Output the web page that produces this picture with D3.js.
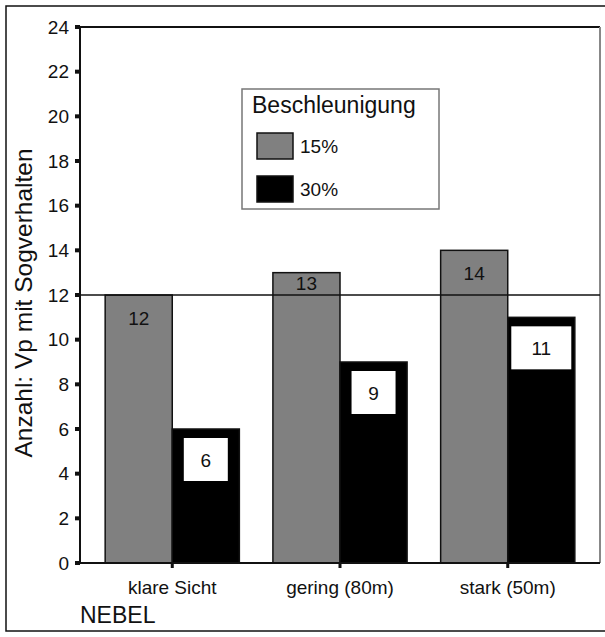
<!DOCTYPE html>
<html>
<head>
<meta charset="utf-8">
<script src="https://cdn.jsdelivr.net/npm/d3@7"></script>
<style>
  body { margin: 0; background: #fff; }
  text { font-family: "Liberation Sans", Arial, sans-serif; fill: #111; }
</style>
</head>
<body>
<div id="chart"></div>
<script>

var svgWidth = 605, svgHeight = 637;

// data
var categories = ["klare Sicht", "gering (80m)", "stark (50m)"];
var seriesNames = ["15%", "30%"];
var values15 = [12, 13, 14];
var values30 = [6, 9, 11];
var yTicks = [0, 2, 4, 6, 8, 10, 12, 14, 16, 18, 20, 22, 24];
var refValue = 12;
var legendTitle = "Beschleunigung";
var yTitle = "Anzahl: Vp mit Sogverhalten";
var xTitle = "NEBEL";

var colors = ["#808080", "#000000"];

var plotLeft = 80, plotRight = 600, plotTop = 27, plotBottom = 563;

var svg = d3.select("#chart")
  .append("svg")
  .attr("width", svgWidth)
  .attr("height", svgHeight);

// outer frame
svg.append("rect")
  .attr("x", 6).attr("y", 6)
  .attr("width", 610).attr("height", 625)
  .attr("fill", "none")
  .attr("stroke", "#111")
  .attr("stroke-width", 1.5);

var x = d3.scaleBand()
  .domain(categories)
  .range([plotLeft, plotRight])
  .paddingInner(0.2)
  .paddingOuter(0.15);

var xSub = d3.scaleBand()
  .domain(seriesNames)
  .range([0, x.bandwidth()]);

var y = d3.scaleLinear()
  .domain([0, 24])
  .range([plotBottom, plotTop]);

var rows = categories.map(function(c, i) {
  return { cat: c, vals: [values15[i], values30[i]] };
});

// plot frame: top black, right grey
svg.append("line")
  .attr("x1", plotLeft).attr("x2", plotRight)
  .attr("y1", plotTop).attr("y2", plotTop)
  .attr("stroke", "#111").attr("stroke-width", 2);
svg.append("line")
  .attr("x1", plotRight).attr("x2", plotRight)
  .attr("y1", plotTop).attr("y2", plotBottom)
  .attr("stroke", "#888").attr("stroke-width", 2);

var groups = svg.selectAll("g.grp")
  .data(rows)
  .enter()
  .append("g")
  .attr("class", "grp")
  .attr("transform", d => "translate(" + x(d.cat) + ",0)");

groups.selectAll("rect.bar")
  .data(d => d.vals.map((v, j) => ({ key: seriesNames[j], v: v, j: j })))
  .enter()
  .append("rect")
  .attr("class", "bar")
  .attr("x", d => xSub(d.key))
  .attr("y", d => y(d.v))
  .attr("width", xSub.bandwidth())
  .attr("height", d => y(0) - y(d.v))
  .attr("fill", d => colors[d.j])
  .attr("stroke", "#111")
  .attr("stroke-width", 1.5);

// reference line at 12
svg.append("line")
  .attr("x1", plotLeft).attr("x2", plotRight)
  .attr("y1", y(refValue)).attr("y2", y(refValue))
  .attr("stroke", "#111").attr("stroke-width", 1.5);

// labels on the grey bars (moved up when they would sit on the line)
groups.append("text")
  .text(d => d.vals[0])
  .attr("x", xSub("15%") + xSub.bandwidth() / 2)
  .attr("y", function(d) {
    var ly = y(d.vals[0]) + 23;
    if (Math.abs(ly - y(refValue)) < 12) ly = y(d.vals[0]) + 11;
    return ly;
  })
  .attr("text-anchor", "middle")
  .attr("dominant-baseline", "central")
  .style("font-size", "19px");

// white boxes with labels on the black bars
var boxes = groups.append("g")
  .attr("transform", d => "translate(" + (xSub("30%") + xSub.bandwidth() / 2) + "," + (y(d.vals[1]) + 9) + ")");

boxes.append("rect")
  .attr("x", d => -(28 + 16 * String(d.vals[1]).length) / 2)
  .attr("y", 0)
  .attr("width", d => 28 + 16 * String(d.vals[1]).length)
  .attr("height", 43)
  .attr("fill", "#fff");

boxes.append("text")
  .text(d => d.vals[1])
  .attr("x", 0)
  .attr("y", 22)
  .attr("text-anchor", "middle")
  .attr("dominant-baseline", "central")
  .style("font-size", "19px");

// y axis
svg.append("line")
  .attr("x1", plotLeft).attr("x2", plotLeft)
  .attr("y1", plotTop).attr("y2", plotBottom + 1)
  .attr("stroke", "#111").attr("stroke-width", 2);

svg.selectAll("rect.ytick")
  .data(yTicks)
  .enter()
  .append("rect")
  .attr("class", "ytick")
  .attr("x", plotLeft - 5)
  .attr("y", d => y(d) - 2)
  .attr("width", 5)
  .attr("height", 4)
  .attr("fill", "#111");

svg.selectAll("text.ylab")
  .data(yTicks)
  .enter()
  .append("text")
  .attr("class", "ylab")
  .text(d => d)
  .attr("x", 69)
  .attr("y", d => y(d))
  .attr("text-anchor", "end")
  .attr("dominant-baseline", "central")
  .style("font-size", "19px");

// x axis
svg.append("line")
  .attr("x1", plotLeft - 1).attr("x2", plotRight)
  .attr("y1", plotBottom).attr("y2", plotBottom)
  .attr("stroke", "#111").attr("stroke-width", 2);

svg.selectAll("rect.xtick")
  .data(categories)
  .enter()
  .append("rect")
  .attr("class", "xtick")
  .attr("x", d => x(d) + x.bandwidth() / 2 - 1.5)
  .attr("y", plotBottom)
  .attr("width", 3)
  .attr("height", 5)
  .attr("fill", "#111");

svg.selectAll("text.xlab")
  .data(categories)
  .enter()
  .append("text")
  .attr("class", "xlab")
  .text(d => d)
  .attr("x", d => x(d) + x.bandwidth() / 2)
  .attr("y", 594)
  .attr("text-anchor", "middle")
  .style("font-size", "19px");

svg.append("text")
  .text(xTitle)
  .attr("x", 80)
  .attr("y", 623)
  .style("font-size", "23px");

svg.append("text")
  .text(yTitle)
  .attr("transform", "translate(32,303) rotate(-90)")
  .attr("text-anchor", "middle")
  .style("font-size", "24.5px");

// legend
var legend = svg.append("g").attr("transform", "translate(242,89)");

legend.append("rect")
  .attr("width", 197)
  .attr("height", 120)
  .attr("fill", "#fff")
  .attr("stroke", "#777")
  .attr("stroke-width", 1.5);

legend.append("text")
  .text(legendTitle)
  .attr("x", 10)
  .attr("y", 24)
  .style("font-size", "23px");

var items = legend.selectAll("g.item")
  .data(seriesNames)
  .enter()
  .append("g")
  .attr("class", "item")
  .attr("transform", (d, i) => "translate(15," + (44 + i * 43) + ")");

items.append("rect")
  .attr("width", 36)
  .attr("height", 26)
  .attr("fill", (d, i) => colors[i])
  .attr("stroke", "#111")
  .attr("stroke-width", 1.5);

items.append("text")
  .text(d => d)
  .attr("x", 43)
  .attr("y", 13)
  .attr("dominant-baseline", "central")
  .style("font-size", "19px");

</script>
</body>
</html>
